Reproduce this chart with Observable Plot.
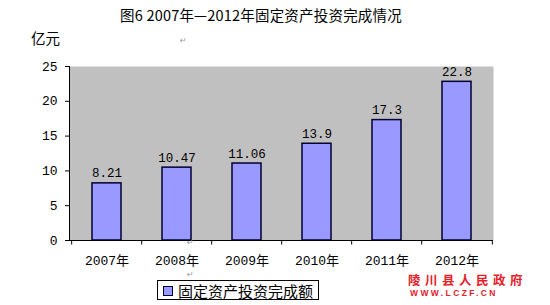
<!DOCTYPE html>
<html>
<head>
<meta charset="utf-8">
<script src="https://cdn.jsdelivr.net/npm/d3@7"></script>
<script src="https://cdn.jsdelivr.net/npm/@observablehq/plot@0.6"></script>
<style>
  html, body { margin: 0; padding: 0; background: #fff; }
  #wrap { position: relative; width: 550px; height: 305px; overflow: hidden;
          font-family: 'Liberation Mono', 'Noto Sans CJK SC', sans-serif; color: #000; }
  #chart { position: absolute; left: 0; top: 0; }
  .ov { position: absolute; white-space: nowrap; line-height: 1; }
  .mark { color: #999; font-size: 8px; font-family: 'DejaVu Sans', sans-serif; }
</style>
</head>
<body>
<div id="wrap">
  <div id="chart"></div>
  <div class="ov" id="title" style="left:261px; top:8px; transform:translateX(-50%); font-size:14.5px; letter-spacing:0.2px; font-family:'Noto Sans CJK SC', sans-serif;"></div>
  <div class="ov" id="unit" style="left:31px; top:31px; font-size:14.5px; font-family:'Noto Sans CJK SC';"></div>
  <div class="ov mark" style="left:180px; top:37px;">↵</div>
  <div class="ov mark" style="left:187px; top:239px;">↵</div>
  <div class="ov mark" style="left:187px; top:271px;">↵</div>
  <div class="ov" id="legend" style="left:157px; top:280px; width:162px; height:20px; border:1px solid #000; box-sizing:border-box; background:#fff;">
    <span style="position:absolute; left:5px; top:5px; width:8px; height:8px; background:#9999FF; border:1px solid #000033;"></span>
    <span id="legendText" style="position:absolute; left:20px; top:1px; font-size:15px; font-family:'Noto Sans CJK SC'; line-height:17px;"></span>
  </div>
  <div class="ov" id="wm1" style="left:408px; top:273px; font-size:12.5px; line-height:14px; height:14px; font-weight:bold; color:#E8202A; letter-spacing:4.5px; font-family:'Noto Sans CJK SC';"></div>
  <div class="ov" id="wm2" style="left:410px; top:289px; font-size:8.5px; line-height:9px; font-weight:bold; color:#E8202A; letter-spacing:2.4px; font-family:'Liberation Sans', sans-serif;"></div>
</div>
<script>
const titleText = "图6 2007年—2012年固定资产投资完成情况";
const unitText = "亿元";
const seriesName = "固定资产投资完成额";
const years = ["2007年", "2008年", "2009年", "2010年", "2011年", "2012年"];
const values = [8.21, 10.47, 11.06, 13.9, 17.3, 22.8];
const valueLabels = ["8.21", "10.47", "11.06", "13.9", "17.3", "22.8"];
const yTicks = [0, 5, 10, 15, 20, 25];
const watermark1 = "陵川县人民政府";
const watermark2 = "WWW.LCZF.CN";

document.getElementById("title").textContent = titleText;
document.getElementById("unit").textContent = unitText;
document.getElementById("legendText").textContent = seriesName;
document.getElementById("wm1").textContent = watermark1;
document.getElementById("wm2").textContent = watermark2;

const data = years.map((y, i) => ({year: y, value: values[i], label: valueLabels[i]}));

const W = 550, H = 305, mL = 69, mR = 57, mT = 66, mB = 65;
const step = (W - mL - mR) / years.length;
const font = "'Liberation Mono', 'Noto Sans CJK SC', sans-serif";

const chart = Plot.plot({
  width: W, height: H,
  marginLeft: mL, marginRight: mR, marginTop: mT, marginBottom: mB,
  style: {fontFamily: font, fontSize: "13px", color: "#000", background: "transparent", overflow: "visible"},
  x: {domain: years, paddingInner: 0.59, paddingOuter: 0.295, label: null},
  y: {domain: [0, 25], label: null},
  marks: [
    Plot.frame({fill: "#C0C0C0", stroke: null}),
    Plot.barY(data, {x: "year", y: "value", fill: "#9999FF", stroke: "#000033", strokeWidth: 1.5}),
    Plot.text(data, {x: "year", y: "value", text: "label", dy: -6, lineAnchor: "bottom", fontSize: 12.5, fill: "#000"}),
    Plot.ruleY([0], {stroke: "#000", strokeWidth: 1}),
    Plot.frame({anchor: "left", stroke: "#000", strokeWidth: 1}),
    Plot.ruleX(years, {x: d => d, y1: 0, y2: -0.65, dx: -step / 2, stroke: "#000"}),
    Plot.ruleX(years.slice(-1), {x: d => d, y1: 0, y2: -0.65, dx: step / 2, stroke: "#000"}),
    Plot.axisY({ticks: yTicks, tickSize: 4, tickPadding: 8, tickFormat: d => String(d), fontSize: 13, label: null}),
    Plot.axisX({tickSize: 0, tickPadding: 15, fontSize: 13, label: null})
  ]
});
document.getElementById("chart").appendChild(chart);
</script>
</body>
</html>
